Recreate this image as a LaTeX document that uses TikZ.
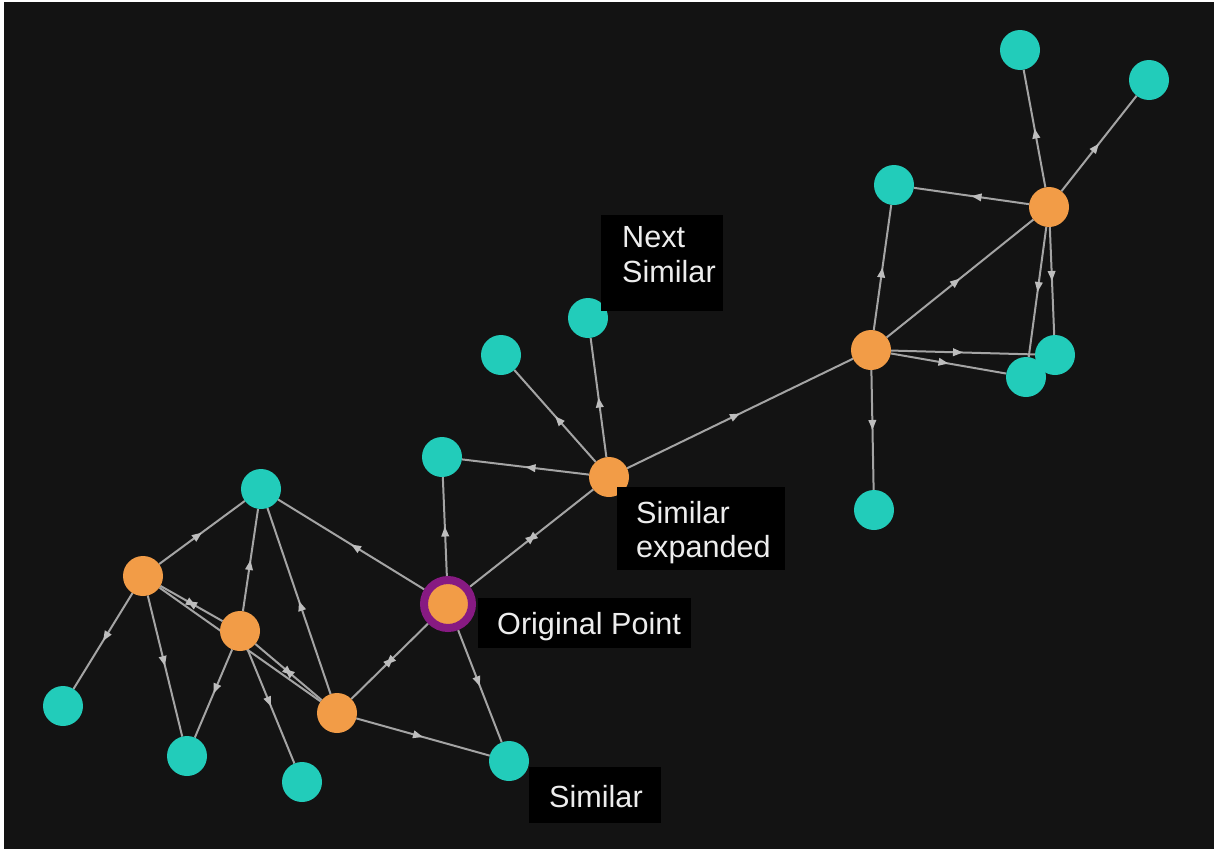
\documentclass[tikz,border=0pt]{standalone}
\usepackage{fontspec}
\setmainfont{Liberation Sans}
\usetikzlibrary{arrows.meta,decorations.markings}

\definecolor{canvas}{HTML}{131313}
\definecolor{leafc}{HTML}{22CCBA}
\definecolor{hubc}{HTML}{F29C47}
\definecolor{ringc}{HTML}{871A82}
\definecolor{edgec}{HTML}{A4A4A4}
\definecolor{tipc}{HTML}{BDBDBD}
\definecolor{tagc}{HTML}{EDEDED}

\pgfdeclarelayer{bglayer}
\pgfdeclarelayer{edgelayer}
\pgfsetlayers{bglayer,edgelayer,main}

\tikzset{
  leaf/.style={circle, fill=leafc, minimum size=40pt, inner sep=0pt, outer sep=0pt},
  hub/.style={circle, fill=hubc, minimum size=40pt, inner sep=0pt, outer sep=0pt},
  origin/.style={circle, fill=hubc, draw=ringc, line width=8pt, minimum size=48pt, inner sep=0pt},
  tiphead/.tip={Triangle[length=10pt,width=7.5pt]},
  link/.style={draw=edgec, line width=2pt, postaction={decorate},
    decoration={markings, mark=at position 0.5 with {\arrow[tipc]{tiphead}}}},
  twoway/.style={draw=edgec, line width=2pt, postaction={decorate},
    decoration={markings,
      mark=at position 0.5 with {\pgftransformxshift{5pt}\arrow[tipc]{tiphead}},
      mark=at position 0.5 with {\pgftransformxshift{-5pt}\arrowreversed[tipc]{tiphead}}}},
  tagbox/.style={fill=black, inner sep=0pt, anchor=north west},
  tagtext/.style={text=tagc, font=\fontsize{30.6}{34}\selectfont, inner sep=0pt, anchor=base west}
}

\begin{document}
\begin{tikzpicture}[x=1pt,y=-1pt]
\begin{pgfonlayer}{bglayer}
\fill[white] (0,0) rectangle (1214,849);
\fill[canvas] (4,2) rectangle (1214,849);
\end{pgfonlayer}
\useasboundingbox (0,0) rectangle (1214,849);

% leaf points
\node[leaf] (t1) at (1020,50) {};
\node[leaf] (t2) at (1149,80) {};
\node[leaf] (t3) at (894,185) {};
\node[leaf] (t4) at (588,318) {};
\node[leaf] (t5) at (501,355) {};
\node[leaf] (t6) at (1055,355) {};
\node[leaf] (t7) at (1026,377) {};
\node[leaf] (t8) at (442,457) {};
\node[leaf] (t9) at (874,510) {};
\node[leaf] (t10) at (261,489) {};
\node[leaf] (t11) at (63,706) {};
\node[leaf] (t12) at (187,756) {};
\node[leaf] (t13) at (302,782) {};
\node[leaf] (t14) at (509,761) {};

% expanded points
\node[hub] (o1) at (1049,207) {};
\node[hub] (o2) at (871,350) {};
\node[hub] (o3) at (609,477) {};
\node[hub] (o4) at (143,576) {};
\node[hub] (o5) at (240,631) {};
\node[hub] (o6) at (337,713) {};
\node[origin] (org) at (448,604) {};

% directed links, kept under the points
\begin{pgfonlayer}{edgelayer}
\draw[link] (o1) -- (t1);
\draw[link] (o1) -- (t2);
\draw[link] (o1) -- (t3);
\draw[link] (o1) -- (t6);
\draw[link] (o1) -- (t7);
\draw[link] (o2) -- (t3);
\draw[link] (o2) -- (o1);
\draw[link] (o2) -- (t6);
\draw[link] (o2) -- (t7);
\draw[link] (o2) -- (t9);
\draw[link] (o3) -- (t4);
\draw[link] (o3) -- (t5);
\draw[link] (o3) -- (t8);
\draw[link] (o3) -- (o2);
\draw[twoway] (org) -- (o3);
\draw[link] (org) -- (t8);
\draw[link] (org) -- (t10);
\draw[link] (org) -- (t14);
\draw[twoway] (org) -- (o6);
\draw[link] (o4) -- (t10);
\draw[link] (o4) -- (t11);
\draw[link] (o4) -- (t12);
\draw[twoway] (o4) -- (o5);
\draw[link] (o4) -- (o6);
\draw[link] (o5) -- (t10);
\draw[link] (o5) -- (t12);
\draw[link] (o5) -- (t13);
\draw[twoway] (o5) -- (o6);
\draw[link] (o6) -- (t10);
\draw[link] (o6) -- (t14);
\end{pgfonlayer}

% captions
\node[tagbox, minimum width=122pt, minimum height=96pt] (boxnext) at (601,215) {};
\node[tagtext] (nexta) at (622,247) {Next};
\node[tagtext] (nextb) at (622,282) {Similar};

\node[tagbox, minimum width=168pt, minimum height=83pt] (boxexp) at (617,487) {};
\node[tagtext] (expa) at (636,523) {Similar};
\node[tagtext] (expb) at (636,557) {expanded};

\node[tagbox, minimum width=213pt, minimum height=50pt] (boxorg) at (478,598) {};
\node[tagtext] (orgtext) at (497,634) {Original Point};

\node[tagbox, minimum width=132pt, minimum height=56pt] (boxsim) at (529,767) {};
\node[tagtext] (simtext) at (549,807) {Similar};
\end{tikzpicture}
\end{document}
